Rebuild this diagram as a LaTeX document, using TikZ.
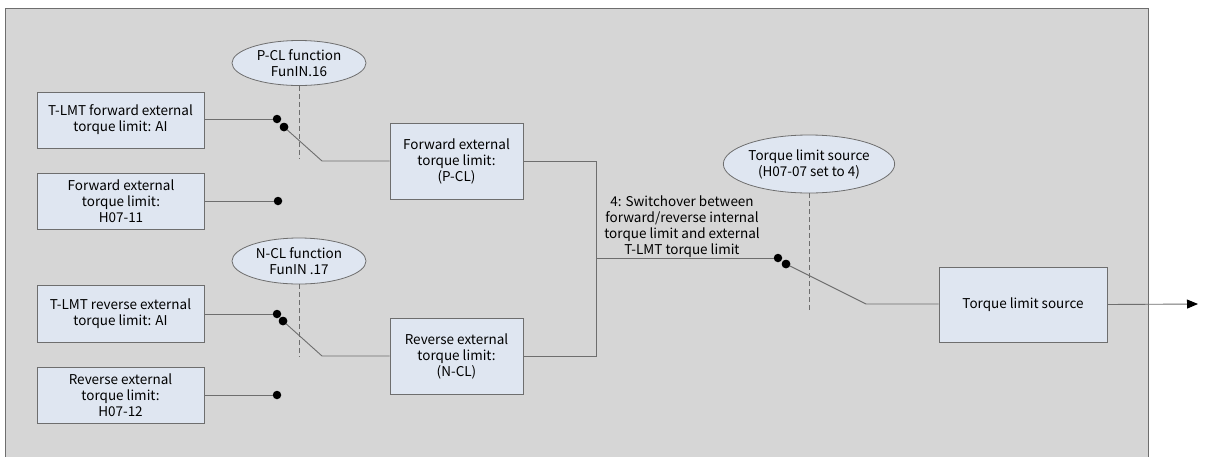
\documentclass[tikz,border=0pt]{standalone}
\usepackage{fontspec}
\setmainfont{Noto Sans CJK SC}
\usetikzlibrary{shapes.geometric,arrows.meta}
\definecolor{bgc}{HTML}{D6D6D6}
\definecolor{boxc}{HTML}{DFE6F1}
\definecolor{linec}{HTML}{6E6E6E}
\tikzset{
  box/.style={draw=linec,fill=boxc,line width=0.9pt,minimum width=#1,align=center,inner sep=0pt,font=\fontsize{13.5}{16}\selectfont},
  oval/.style={ellipse,draw=linec,fill=boxc,line width=0.8pt,align=center,inner sep=0pt,font=\fontsize{13.5}{16}\selectfont},
  wire/.style={draw=linec,line width=0.9pt},
  dashline/.style={draw=linec,line width=0.8pt,dash pattern=on 5pt off 3pt},
  dot/.style={circle,fill=black,inner sep=0pt,minimum size=8.5pt},
}
\begin{document}
\begin{tikzpicture}[x=1pt,y=-1pt]
\useasboundingbox (0,0) rectangle (1205,456);
\fill[bgc] (5,8) rectangle (1148,457);
\draw[linec,line width=0.9pt] (5,457) -- (5,8) -- (1148,8) -- (1148,457);

% boxes
\node[box=167pt,minimum height=56pt] (b1) at (120.5,120) {T-LMT forward external\\torque limit: AI};
\node[box=167pt,minimum height=56pt] (b2) at (121,201) {Forward external\\torque limit:\\H07-11};
\node[box=167pt,minimum height=57pt] (b4) at (120.5,313.5) {T-LMT reverse external\\torque limit: AI};
\node[box=167pt,minimum height=56pt] (b5) at (120.5,395) {Reverse external\\torque limit:\\H07-12};
\node[box=133pt,minimum height=76pt] (b3) at (456.5,161) {Forward external\\torque limit:\\(P-CL)};
\node[box=133pt,minimum height=76pt] (b6) at (456.5,356) {Reverse external\\torque limit:\\(N-CL)};
\node[box=168pt,minimum height=75pt] (b7) at (1023,304.5) {Torque limit source};

% ovals
\node[oval,minimum width=134pt,minimum height=45pt] (e1) at (299,63) {P-CL function\\FunIN.16};
\node[oval,minimum width=134pt,minimum height=46pt] (e2) at (299,261) {N-CL function\\FunIN .17};
\node[oval,minimum width=168pt,minimum height=58pt] (e3) at (809,164) {Torque limit source\\(H07-07 set to 4)};

% dots
\node[dot] (d1a) at (277,119) {};
\node[dot] (d1b) at (284,127) {};
\node[dot] (d2) at (278,201) {};
\node[dot] (d3a) at (277,314) {};
\node[dot] (d3b) at (283,321) {};
\node[dot] (d5) at (277,395) {};
\node[dot] (d4a) at (778,258) {};
\node[dot] (d4b) at (786,264) {};

\coordinate (k1) at (322,161);
\coordinate (k3) at (322,356);
\coordinate (k4) at (866,304);
\coordinate (j) at (596,258);
\coordinate (jt) at (596,161);
\coordinate (jb) at (596,356);
\coordinate (out) at (1198,304);
\coordinate (s1) at (299,159);
\coordinate (s2) at (299,357);
\coordinate (s3) at (809,312);

% dashed
\draw[dashline] (e1.south) -- (s1);
\draw[dashline] (e2.south) -- (s2);
\draw[dashline] (e3.south) -- (s3);

% wires
\draw[wire] (b1.east |- d1a) -- (d1a);
\draw[wire] (d1b.center) -- (k1) -- (b3.west |- k1);
\draw[wire] (b2.east |- d2) -- (d2);
\draw[wire] (b4.east |- d3a) -- (d3a);
\draw[wire] (d3b.center) -- (k3) -- (b6.west |- k3);
\draw[wire] (b5.east |- d5) -- (d5);
\draw[wire] (b3.east) -- (jt) -- (jb) -- (b6.east);
\draw[wire] (j) -- (d4a);
\draw[wire] (d4b.center) -- (k4) -- (b7.west |- k4);
\draw[wire,-{Triangle[length=11pt,width=9pt,color=black,fill=black]}] (b7.east) -- (out);
\node[dot] at (d1b) {};
\node[dot] at (d3b) {};
\node[dot] at (d4b) {};

\node[align=center,inner sep=0pt,font=\fontsize{13.5}{16}\selectfont] (lbl) at (682,227) {4: Switchover between\\forward/reverse internal\\torque limit and external\\T-LMT torque limit};
\end{tikzpicture}
\end{document}
